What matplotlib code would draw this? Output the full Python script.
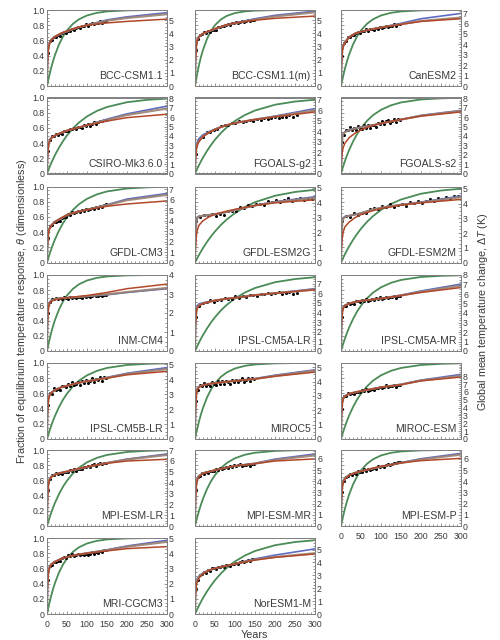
import numpy as np
import matplotlib
matplotlib.use("Agg")
import matplotlib.pyplot as plt
from matplotlib import font_manager
from matplotlib.ticker import MultipleLocator, FixedLocator

# narrow sans if we have it, Arial-like otherwise
_names = {f.name for f in font_manager.fontManager.ttflist}
if 'Liberation Sans Narrow' in _names:
    FAM, FS = 'Liberation Sans Narrow', 1.0
else:
    FAM, FS = 'Liberation Sans', 0.88
plt.rcParams['font.family'] = [FAM, 'DejaVu Sans']
plt.rcParams['mathtext.fontset'] = 'custom'
plt.rcParams['mathtext.it'] = FAM + ':italic'
plt.rcParams['mathtext.rm'] = FAM

# panel names, left-to-right, top-to-bottom
models = ['BCC-CSM1.1', 'BCC-CSM1.1(m)', 'CanESM2',
          'CSIRO-Mk3.6.0', 'FGOALS-g2', 'FGOALS-s2',
          'GFDL-CM3', 'GFDL-ESM2G', 'GFDL-ESM2M',
          'INM-CM4', 'IPSL-CM5A-LR', 'IPSL-CM5A-MR',
          'IPSL-CM5B-LR', 'MIROC5', 'MIROC-ESM',
          'MPI-ESM-LR', 'MPI-ESM-MR', 'MPI-ESM-P',
          'MRI-CGCM3', 'NorESM1-M']

# right axis: equilibrium warming (K) that theta = 1 stands for, and last labelled tick
dT_max = [5.77, 5.77, 7.3, 8.1, 7.2, 8.1, 7.26, 5.07, 5.16, 4.0,
          7.9, 8.0, 5.1, 5.3, 9.7, 7.0, 6.8, 6.8, 5.0, 5.9]
dT_top_tick = [5, 5, 7, 8, 7, 8, 7, 5, 5, 4, 8, 8, 5, 5, 8, 7, 6, 6, 5, 5]

# fitted curves at these years
fit_years = [0, 1, 3, 6, 10, 20, 35, 50, 75, 100, 150, 200, 300]

blue_fit = [
    [0, 0.32, 0.50, 0.57, 0.61, 0.65, 0.69, 0.72, 0.77, 0.80, 0.87, 0.91, 0.965],
    [0, 0.34, 0.55, 0.62, 0.655, 0.69, 0.72, 0.75, 0.80, 0.83, 0.885, 0.93, 0.985],
    [0, 0.30, 0.48, 0.54, 0.58, 0.645, 0.69, 0.715, 0.745, 0.77, 0.825, 0.885, 0.955],
    [0, 0.22, 0.36, 0.43, 0.47, 0.50, 0.535, 0.565, 0.60, 0.635, 0.715, 0.785, 0.886],
    [0, 0.22, 0.36, 0.42, 0.46, 0.51, 0.55, 0.585, 0.63, 0.665, 0.71, 0.755, 0.854],
    [0, 0.30, 0.48, 0.53, 0.55, 0.575, 0.595, 0.61, 0.63, 0.66, 0.71, 0.765, 0.83],
    [0, 0.23, 0.38, 0.45, 0.49, 0.535, 0.58, 0.625, 0.665, 0.695, 0.76, 0.835, 0.908],
    [0, 0.35, 0.55, 0.60, 0.61, 0.615, 0.625, 0.635, 0.66, 0.69, 0.75, 0.80, 0.865],
    [0, 0.35, 0.55, 0.59, 0.605, 0.615, 0.63, 0.65, 0.69, 0.72, 0.76, 0.795, 0.875],
    [0, 0.38, 0.58, 0.64, 0.665, 0.685, 0.695, 0.70, 0.71, 0.72, 0.74, 0.77, 0.82],
    [0, 0.35, 0.54, 0.60, 0.62, 0.635, 0.65, 0.665, 0.685, 0.70, 0.735, 0.76, 0.82],
    [0, 0.34, 0.53, 0.585, 0.605, 0.625, 0.645, 0.66, 0.675, 0.69, 0.735, 0.79, 0.88],
    [0, 0.33, 0.52, 0.58, 0.61, 0.645, 0.68, 0.70, 0.735, 0.76, 0.81, 0.865, 0.94],
    [0, 0.38, 0.60, 0.67, 0.69, 0.71, 0.725, 0.735, 0.75, 0.765, 0.795, 0.84, 0.91],
    [0, 0.31, 0.49, 0.545, 0.57, 0.595, 0.615, 0.63, 0.655, 0.68, 0.72, 0.775, 0.85],
    [0, 0.35, 0.55, 0.62, 0.65, 0.68, 0.70, 0.715, 0.745, 0.775, 0.83, 0.88, 0.948],
    [0, 0.36, 0.56, 0.63, 0.665, 0.695, 0.715, 0.735, 0.765, 0.79, 0.825, 0.88, 0.948],
    [0, 0.34, 0.53, 0.60, 0.635, 0.67, 0.70, 0.72, 0.75, 0.78, 0.835, 0.885, 0.956],
    [0, 0.35, 0.55, 0.62, 0.655, 0.69, 0.725, 0.75, 0.78, 0.80, 0.845, 0.895, 0.97],
    [0, 0.29, 0.43, 0.47, 0.50, 0.54, 0.575, 0.60, 0.63, 0.66, 0.725, 0.775, 0.857],
]

tan_fit = [
    [0, 0.31, 0.49, 0.565, 0.605, 0.65, 0.69, 0.72, 0.765, 0.80, 0.86, 0.895, 0.945],
    [0, 0.33, 0.54, 0.615, 0.65, 0.69, 0.72, 0.75, 0.795, 0.825, 0.875, 0.915, 0.97],
    [0, 0.29, 0.47, 0.535, 0.575, 0.64, 0.69, 0.715, 0.745, 0.77, 0.815, 0.855, 0.90],
    [0, 0.215, 0.355, 0.425, 0.465, 0.50, 0.535, 0.565, 0.60, 0.635, 0.705, 0.77, 0.855],
    [0, 0.20, 0.33, 0.39, 0.43, 0.49, 0.54, 0.58, 0.63, 0.665, 0.71, 0.75, 0.832],
    [0, 0.29, 0.47, 0.525, 0.545, 0.57, 0.59, 0.61, 0.63, 0.66, 0.71, 0.76, 0.823],
    [0, 0.225, 0.375, 0.445, 0.485, 0.535, 0.58, 0.625, 0.665, 0.695, 0.755, 0.82, 0.89],
    [0, 0.33, 0.53, 0.59, 0.605, 0.615, 0.625, 0.635, 0.66, 0.69, 0.75, 0.795, 0.85],
    [0, 0.33, 0.53, 0.58, 0.60, 0.615, 0.63, 0.65, 0.69, 0.72, 0.76, 0.79, 0.86],
    [0, 0.37, 0.57, 0.635, 0.66, 0.685, 0.695, 0.70, 0.71, 0.72, 0.745, 0.775, 0.83],
    [0, 0.33, 0.52, 0.58, 0.60, 0.625, 0.645, 0.665, 0.685, 0.70, 0.735, 0.76, 0.81],
    [0, 0.33, 0.52, 0.575, 0.60, 0.625, 0.645, 0.66, 0.675, 0.69, 0.73, 0.78, 0.86],
    [0, 0.32, 0.51, 0.575, 0.605, 0.645, 0.68, 0.70, 0.735, 0.76, 0.805, 0.855, 0.92],
    [0, 0.37, 0.59, 0.665, 0.69, 0.71, 0.725, 0.735, 0.75, 0.765, 0.79, 0.83, 0.90],
    [0, 0.30, 0.48, 0.54, 0.565, 0.595, 0.615, 0.63, 0.655, 0.68, 0.715, 0.77, 0.83],
    [0, 0.34, 0.54, 0.615, 0.645, 0.68, 0.70, 0.715, 0.745, 0.775, 0.83, 0.875, 0.935],
    [0, 0.35, 0.55, 0.625, 0.66, 0.695, 0.715, 0.735, 0.765, 0.79, 0.82, 0.87, 0.93],
    [0, 0.33, 0.52, 0.595, 0.63, 0.67, 0.70, 0.72, 0.75, 0.78, 0.83, 0.875, 0.94],
    [0, 0.34, 0.54, 0.615, 0.65, 0.69, 0.725, 0.75, 0.78, 0.80, 0.84, 0.885, 0.95],
    [0, 0.26, 0.40, 0.45, 0.49, 0.535, 0.575, 0.60, 0.63, 0.66, 0.715, 0.75, 0.80],
]

red_fit = [
    [0, 0.28, 0.46, 0.55, 0.60, 0.65, 0.695, 0.725, 0.77, 0.80, 0.83, 0.85, 0.88],
    [0, 0.30, 0.51, 0.60, 0.645, 0.69, 0.725, 0.755, 0.80, 0.83, 0.865, 0.89, 0.92],
    [0, 0.27, 0.45, 0.525, 0.57, 0.64, 0.69, 0.715, 0.745, 0.77, 0.81, 0.85, 0.885],
    [0, 0.20, 0.34, 0.42, 0.46, 0.50, 0.535, 0.565, 0.60, 0.635, 0.69, 0.735, 0.78],
    [0, 0.18, 0.31, 0.375, 0.42, 0.485, 0.54, 0.58, 0.63, 0.665, 0.71, 0.745, 0.81],
    [0, 0.15, 0.28, 0.35, 0.40, 0.47, 0.53, 0.575, 0.625, 0.66, 0.71, 0.755, 0.81],
    [0, 0.21, 0.36, 0.44, 0.48, 0.535, 0.585, 0.625, 0.665, 0.695, 0.74, 0.77, 0.81],
    [0, 0.18, 0.34, 0.43, 0.49, 0.55, 0.60, 0.635, 0.67, 0.70, 0.75, 0.785, 0.825],
    [0, 0.17, 0.32, 0.41, 0.47, 0.53, 0.59, 0.63, 0.675, 0.71, 0.755, 0.785, 0.83],
    [0, 0.35, 0.55, 0.62, 0.65, 0.675, 0.69, 0.70, 0.715, 0.73, 0.77, 0.82, 0.88],
    [0, 0.31, 0.50, 0.565, 0.595, 0.625, 0.645, 0.665, 0.685, 0.70, 0.735, 0.76, 0.805],
    [0, 0.31, 0.50, 0.565, 0.595, 0.625, 0.645, 0.66, 0.675, 0.69, 0.73, 0.77, 0.835],
    [0, 0.30, 0.49, 0.565, 0.60, 0.645, 0.68, 0.70, 0.735, 0.76, 0.80, 0.845, 0.89],
    [0, 0.35, 0.57, 0.65, 0.68, 0.705, 0.725, 0.735, 0.75, 0.765, 0.79, 0.825, 0.88],
    [0, 0.28, 0.46, 0.53, 0.56, 0.595, 0.615, 0.63, 0.655, 0.68, 0.715, 0.765, 0.815],
    [0, 0.32, 0.52, 0.60, 0.64, 0.675, 0.70, 0.72, 0.75, 0.78, 0.825, 0.855, 0.878],
    [0, 0.33, 0.53, 0.61, 0.65, 0.69, 0.715, 0.735, 0.765, 0.79, 0.82, 0.855, 0.883],
    [0, 0.31, 0.50, 0.58, 0.62, 0.665, 0.70, 0.72, 0.755, 0.785, 0.83, 0.86, 0.89],
    [0, 0.32, 0.52, 0.60, 0.645, 0.685, 0.725, 0.75, 0.78, 0.80, 0.83, 0.86, 0.887],
    [0, 0.23, 0.37, 0.43, 0.475, 0.53, 0.575, 0.60, 0.63, 0.66, 0.71, 0.745, 0.79],
]

# single-timescale (green) responses, grouped by how fast they rise
green_years = [0, 5, 10, 15, 20, 30, 40, 50, 65, 80, 100, 125, 150, 200, 250, 300]
green_31 = [0, 0.149, 0.276, 0.384, 0.475, 0.620, 0.725, 0.801, 0.877, 0.924, 0.960, 0.982, 0.992, 0.998, 1.0, 1.0]
green_38 = [0, 0.123, 0.231, 0.326, 0.409, 0.546, 0.651, 0.732, 0.819, 0.878, 0.928, 0.963, 0.981, 0.995, 0.999, 1.0]
green_45 = [0, 0.105, 0.199, 0.283, 0.359, 0.487, 0.589, 0.671, 0.764, 0.831, 0.892, 0.938, 0.964, 0.988, 0.996, 0.999]
green_55 = [0, 0.087, 0.166, 0.239, 0.305, 0.420, 0.517, 0.597, 0.693, 0.767, 0.838, 0.897, 0.935, 0.974, 0.989, 0.996]
green_72 = [0, 0.067, 0.130, 0.188, 0.243, 0.341, 0.426, 0.501, 0.595, 0.671, 0.751, 0.824, 0.875, 0.938, 0.969, 0.985]
green_85 = [0, 0.057, 0.111, 0.162, 0.210, 0.297, 0.375, 0.445, 0.535, 0.610, 0.692, 0.770, 0.829, 0.905, 0.947, 0.971]
green_95 = [0, 0.051, 0.100, 0.146, 0.190, 0.271, 0.344, 0.409, 0.496, 0.569, 0.651, 0.732, 0.794, 0.878, 0.928, 0.957]
green_fit = [green_38, green_31, green_38, green_72, green_85, green_55,
             green_55, green_95, green_85, green_38, green_85, green_55,
             green_55, green_38, green_55, green_55, green_45, green_38,
             green_38, green_85]

# model output (black dots), sampled years
yrs_150 = list(range(2, 150, 5))
yrs_255 = list(range(2, 262, 9))
yrs_300 = list(range(3, 300, 10))
dot_years = [yrs_150, yrs_150, yrs_150, yrs_150, yrs_255, yrs_150,
             yrs_150, yrs_300, yrs_300, yrs_150, yrs_255, yrs_150,
             yrs_150, yrs_150, yrs_150, yrs_150, yrs_150, yrs_150,
             yrs_150, yrs_150]

dots = [
    [0.44, 0.59, 0.605, 0.65, 0.645, 0.665, 0.66, 0.70, 0.705, 0.70, 0.73, 0.725, 0.755, 0.74, 0.76,
     0.775, 0.76, 0.79, 0.785, 0.81, 0.795, 0.81, 0.835, 0.815, 0.835, 0.835, 0.855, 0.835, 0.86, 0.86],
    [0.48, 0.62, 0.675, 0.685, 0.71, 0.695, 0.72, 0.705, 0.74, 0.74, 0.74, 0.775, 0.77, 0.795, 0.785,
     0.805, 0.81, 0.805, 0.835, 0.825, 0.845, 0.83, 0.845, 0.86, 0.84, 0.855, 0.87, 0.855, 0.875, 0.87],
    [0.40, 0.56, 0.59, 0.645, 0.65, 0.67, 0.665, 0.70, 0.705, 0.70, 0.725, 0.72, 0.75, 0.73, 0.745,
     0.755, 0.735, 0.765, 0.755, 0.775, 0.76, 0.77, 0.79, 0.77, 0.795, 0.79, 0.81, 0.795, 0.82, 0.82],
    [0.30, 0.44, 0.49, 0.495, 0.52, 0.505, 0.53, 0.52, 0.555, 0.555, 0.555, 0.59, 0.58, 0.60, 0.59,
     0.61, 0.61, 0.605, 0.635, 0.625, 0.645, 0.63, 0.655, 0.675, 0.655, 0.675, 0.695, 0.685, 0.71, 0.705],
    [0.26, 0.45, 0.48, 0.54, 0.545, 0.575, 0.58, 0.625, 0.635, 0.635, 0.665, 0.66, 0.69, 0.675, 0.695,
     0.705, 0.69, 0.72, 0.71, 0.73, 0.715, 0.73, 0.75, 0.73, 0.75, 0.745, 0.765, 0.745, 0.77],
    [0.42, 0.51, 0.575, 0.575, 0.615, 0.57, 0.605, 0.57, 0.62, 0.60, 0.58, 0.635, 0.60, 0.635, 0.60,
     0.64, 0.635, 0.615, 0.67, 0.65, 0.685, 0.65, 0.685, 0.71, 0.665, 0.69, 0.715, 0.68, 0.72, 0.71],
    [0.32, 0.48, 0.49, 0.535, 0.53, 0.55, 0.55, 0.59, 0.60, 0.60, 0.635, 0.63, 0.66, 0.645, 0.665,
     0.675, 0.66, 0.69, 0.68, 0.70, 0.685, 0.70, 0.72, 0.70, 0.725, 0.72, 0.745, 0.73, 0.76, 0.765],
    [0.55, 0.595, 0.63, 0.62, 0.643, 0.61, 0.643, 0.627, 0.68, 0.68, 0.68, 0.733, 0.717, 0.755, 0.74,
     0.773, 0.775, 0.762, 0.81, 0.792, 0.82, 0.795, 0.823, 0.843, 0.81, 0.83, 0.85, 0.825, 0.853, 0.842],
    [0.54, 0.615, 0.595, 0.648, 0.627, 0.65, 0.647, 0.705, 0.713, 0.705, 0.745, 0.732, 0.768, 0.735, 0.755,
     0.768, 0.747, 0.795, 0.777, 0.805, 0.785, 0.81, 0.838, 0.81, 0.843, 0.832, 0.865, 0.837, 0.873, 0.87],
    [0.50, 0.64, 0.68, 0.68, 0.70, 0.68, 0.695, 0.68, 0.705, 0.70, 0.69, 0.715, 0.70, 0.715, 0.70,
     0.715, 0.71, 0.70, 0.725, 0.715, 0.73, 0.71, 0.73, 0.74, 0.72, 0.73, 0.74, 0.725, 0.74, 0.735],
    [0.45, 0.59, 0.635, 0.64, 0.665, 0.65, 0.675, 0.665, 0.695, 0.69, 0.685, 0.72, 0.70, 0.725, 0.715,
     0.735, 0.735, 0.725, 0.755, 0.745, 0.765, 0.745, 0.765, 0.775, 0.755, 0.765, 0.77, 0.75, 0.76],
    [0.45, 0.59, 0.59, 0.63, 0.62, 0.635, 0.625, 0.655, 0.655, 0.645, 0.67, 0.655, 0.68, 0.66, 0.675,
     0.685, 0.67, 0.70, 0.685, 0.705, 0.685, 0.70, 0.715, 0.695, 0.71, 0.705, 0.72, 0.70, 0.72, 0.72],
    [0.45, 0.61, 0.595, 0.665, 0.64, 0.66, 0.64, 0.70, 0.70, 0.68, 0.725, 0.70, 0.75, 0.705, 0.73,
     0.745, 0.71, 0.765, 0.74, 0.775, 0.74, 0.765, 0.80, 0.755, 0.79, 0.775, 0.81, 0.765, 0.81, 0.80],
    [0.50, 0.64, 0.71, 0.70, 0.74, 0.695, 0.73, 0.695, 0.75, 0.73, 0.715, 0.765, 0.73, 0.765, 0.725,
     0.76, 0.75, 0.725, 0.775, 0.75, 0.78, 0.745, 0.775, 0.80, 0.755, 0.775, 0.80, 0.765, 0.80, 0.79],
    [0.40, 0.56, 0.56, 0.60, 0.59, 0.605, 0.595, 0.625, 0.625, 0.615, 0.64, 0.63, 0.655, 0.635, 0.65,
     0.66, 0.645, 0.675, 0.665, 0.685, 0.67, 0.685, 0.705, 0.68, 0.70, 0.695, 0.71, 0.69, 0.71, 0.71],
    [0.47, 0.62, 0.67, 0.675, 0.70, 0.68, 0.70, 0.685, 0.715, 0.71, 0.705, 0.735, 0.725, 0.745, 0.73,
     0.75, 0.75, 0.745, 0.78, 0.77, 0.79, 0.78, 0.80, 0.815, 0.795, 0.81, 0.825, 0.81, 0.83, 0.825],
    [0.48, 0.65, 0.66, 0.70, 0.69, 0.705, 0.695, 0.725, 0.725, 0.72, 0.745, 0.735, 0.765, 0.745, 0.76,
     0.77, 0.76, 0.79, 0.78, 0.80, 0.785, 0.80, 0.82, 0.79, 0.805, 0.80, 0.82, 0.795, 0.82, 0.82],
    [0.45, 0.59, 0.645, 0.655, 0.685, 0.67, 0.695, 0.685, 0.72, 0.715, 0.71, 0.745, 0.73, 0.75, 0.735,
     0.755, 0.76, 0.75, 0.785, 0.775, 0.795, 0.78, 0.805, 0.82, 0.805, 0.82, 0.835, 0.825, 0.845, 0.84],
    [0.45, 0.63, 0.645, 0.685, 0.68, 0.70, 0.70, 0.735, 0.745, 0.74, 0.77, 0.76, 0.785, 0.765, 0.78,
     0.79, 0.77, 0.795, 0.775, 0.79, 0.775, 0.79, 0.81, 0.79, 0.81, 0.805, 0.83, 0.815, 0.84, 0.84],
    [0.33, 0.45, 0.51, 0.52, 0.555, 0.545, 0.575, 0.565, 0.60, 0.60, 0.595, 0.625, 0.615, 0.635, 0.62,
     0.64, 0.64, 0.63, 0.66, 0.655, 0.675, 0.66, 0.68, 0.695, 0.68, 0.695, 0.71, 0.70, 0.72, 0.72],
]

TXT = '#3a3a3a'
GRID = '#808080'
TICK_FS = 7.2 * FS
NAME_FS = 8.6 * FS
LAB_FS = 8.8 * FS

fig = plt.figure(figsize=(5, 6.4), dpi=100)

col_left = [47, 195, 341]
row_top = [10, 97.5, 186.5, 275, 363, 450, 538]
pw, ph = 120, 76


def style_axis(a):
    a.tick_params(which='both', direction='in', colors=GRID, labelcolor=TXT,
                  labelsize=TICK_FS, pad=1.5, width=0.6)
    a.tick_params(which='major', length=2.5)
    a.tick_params(which='minor', length=1.2)
    for sp in a.spines.values():
        sp.set_color(GRID)
        sp.set_linewidth(0.7)


for i, name in enumerate(models):
    r, c = divmod(i, 3)
    ax = fig.add_axes([col_left[c] / 500, 1 - (row_top[r] + ph) / 640, pw / 500, ph / 640])

    ax.plot(green_years, green_fit[i], color='#4b8b57', lw=1.3, zorder=2)
    ax.plot(dot_years[i], dots[i], 'o', color='black', ms=2.2, mew=0, zorder=3)
    ax.plot(fit_years, blue_fit[i], color='#5d6cc4', lw=1.2, zorder=4)
    ax.plot(fit_years, tan_fit[i], color='#9a8272', lw=1.6, alpha=0.9, zorder=4)
    ax.plot(fit_years, red_fit[i], color='#b2482a', lw=1.1, zorder=5)

    ax.set_xlim(0, 300)
    ax.set_ylim(0, 1.0)
    ax.xaxis.set_major_locator(MultipleLocator(50))
    ax.xaxis.set_minor_locator(MultipleLocator(10))
    ax.yaxis.set_major_locator(MultipleLocator(0.2))
    ax.yaxis.set_minor_locator(MultipleLocator(0.05))
    style_axis(ax)
    ax.tick_params(axis='x', pad=4)

    if c == 0:
        ax.set_yticks([0, 0.2, 0.4, 0.6, 0.8, 1.0])
        ax.set_yticklabels(['0', '0.2', '0.4', '0.6', '0.8', '1.0'])
    else:
        ax.tick_params(axis='y', labelleft=False)
    if name in ('MRI-CGCM3', 'NorESM1-M', 'MPI-ESM-P'):
        ax.tick_params(axis='x', labelbottom=True)
    else:
        ax.tick_params(axis='x', labelbottom=False)

    ax2 = ax.twinx()
    ax2.set_ylim(0, dT_max[i])
    ax2.yaxis.set_major_locator(FixedLocator(list(range(0, dT_top_tick[i] + 1))))
    ax2.yaxis.set_minor_locator(MultipleLocator(0.25))
    style_axis(ax2)

    ax.text(0.965, 0.06, name, transform=ax.transAxes, ha='right', va='bottom',
            fontsize=NAME_FS, color=TXT, zorder=6)

fig.text(0.044, 0.513, r'Fraction of equilibrium temperature response, $\theta$ (dimensionless)',
         rotation=90, ha='center', va='center', fontsize=LAB_FS, color=TXT)
fig.text(0.966, 0.513, r'Global mean temperature change, $\Delta T$ (K)',
         rotation=90, ha='center', va='center', fontsize=LAB_FS, color=TXT)
fig.text(0.509, 0.008, 'Years', ha='center', va='center', fontsize=LAB_FS, color=TXT)

fig.savefig('out.png', dpi=100)
